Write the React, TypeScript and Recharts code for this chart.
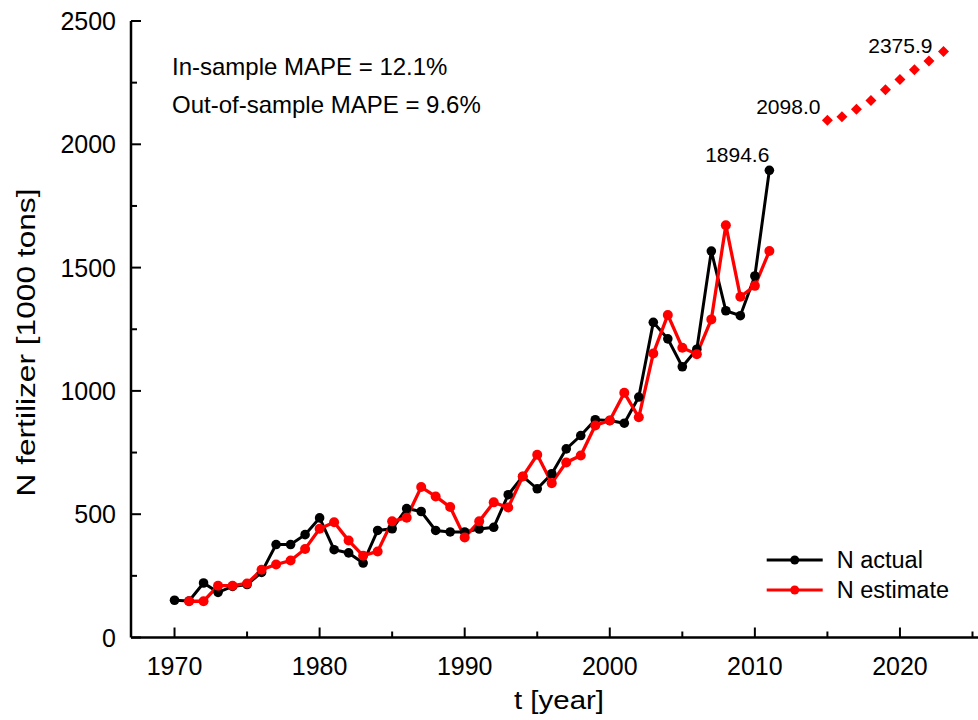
import React from 'react';
import { LineChart, Line, XAxis, YAxis, Legend, LabelList, Label } from 'recharts';

const FONT = '"Liberation Sans", Arial, Helvetica, sans-serif';

// ---- data ----
const actualYears = [1970, 1971, 1972, 1973, 1974, 1975, 1976, 1977, 1978, 1979, 1980, 1981, 1982, 1983, 1984, 1985, 1986, 1987, 1988, 1989, 1990, 1991, 1992, 1993, 1994, 1995, 1996, 1997, 1998, 1999, 2000, 2001, 2002, 2003, 2004, 2005, 2006, 2007, 2008, 2009, 2010, 2011];
const actualValues = [151, 148, 221, 183, 207, 215, 264, 377, 377, 417, 485, 356, 343, 302, 434, 441, 523, 511, 434, 428, 428, 440, 447, 579, 653, 603, 664, 765, 819, 883, 880, 869, 975, 1278, 1211, 1098, 1169, 1567, 1325, 1305, 1466, 1894.6];

const estimateYears = [1971, 1972, 1973, 1974, 1975, 1976, 1977, 1978, 1979, 1980, 1981, 1982, 1983, 1984, 1985, 1986, 1987, 1988, 1989, 1990, 1991, 1992, 1993, 1994, 1995, 1996, 1997, 1998, 1999, 2000, 2001, 2002, 2003, 2004, 2005, 2006, 2007, 2008, 2009, 2010, 2011];
const estimateValues = [147, 147, 210, 210, 219, 275, 296, 312, 359, 441, 467, 393, 332, 349, 471, 486, 610, 572, 529, 406, 471, 548, 527, 653, 741, 626, 710, 738, 860, 880, 992, 893, 1152, 1308, 1175, 1149, 1290, 1672, 1382, 1426, 1567];

const forecastYears = [2015, 2016, 2017, 2018, 2019, 2020, 2021, 2022, 2023];
const forecastValues = [2098.0, 2112, 2142, 2178, 2221, 2263, 2302, 2338, 2375.9];

const xTicks = [1970, 1975, 1980, 1985, 1990, 1995, 2000, 2005, 2010, 2015, 2020, 2025];
const yTicks = [0, 250, 500, 750, 1000, 1250, 1500, 1750, 2000, 2250, 2500];
const xDomain = [1967, 2026];
const yDomain = [0, 2500];

const seriesNames = ['N actual', 'N estimate'];
const mapeLines = ['In-sample MAPE = 12.1%', 'Out-of-sample MAPE = 9.6%'];
const xTitle = 't [year]';
const yTitle = 'N fertilizer [1000 tons]';

// ---- table built from the arrays ----
const allYears = Array.from(new Set([...actualYears, ...estimateYears, ...forecastYears])).sort((a, b) => a - b);
const table = allYears.map((yr) => {
  const ia = actualYears.indexOf(yr);
  const ie = estimateYears.indexOf(yr);
  const iff = forecastYears.indexOf(yr);
  return {
    year: yr,
    actual: ia >= 0 ? actualValues[ia] : null,
    estimate: ie >= 0 ? estimateValues[ie] : null,
    forecast: iff >= 0 ? forecastValues[iff] : null,
  };
});

const lastActual = actualValues[actualValues.length - 1];
const firstForecast = forecastValues[0];
const lastForecast = forecastValues[forecastValues.length - 1];

// ---- ticks ----
const XTickBottom = (props: any) => {
  const { x, y, payload } = props;
  const v = payload.value;
  const major = v % 10 === 0;
  return (
    <g>
      <line x1={x} x2={x} y1={y} y2={y - (major ? 10 : 6)} stroke="#000" strokeWidth={2} />
      {major && (
        <text x={x} y={y + 37.5} textAnchor="middle" fontSize={25} fontFamily={FONT} fill="#000">
          {v}
        </text>
      )}
    </g>
  );
};

const XTickTop = (props: any) => {
  const { x, y, payload } = props;
  const major = payload.value % 10 === 0;
  return <line x1={x} x2={x} y1={y} y2={y + (major ? 10 : 6)} stroke="#000" strokeWidth={2} />;
};

const YTickLeft = (props: any) => {
  const { x, y, payload } = props;
  const v = payload.value;
  const major = v % 500 === 0;
  return (
    <g>
      <line x1={x} x2={x + (major ? 10 : 6)} y1={y} y2={y} stroke="#000" strokeWidth={2} />
      {major && (
        <text x={x - 15} y={y + 9} textAnchor="end" fontSize={25} fontFamily={FONT} fill="#000">
          {v}
        </text>
      )}
    </g>
  );
};

const YTickRight = (props: any) => {
  const { x, y, payload } = props;
  const major = payload.value % 500 === 0;
  return <line x1={x} x2={x - (major ? 10 : 6)} y1={y} y2={y} stroke="#000" strokeWidth={2} />;
};

// ---- dots & labels ----
const Diamond = (props: any) => {
  const { cx, cy, index } = props;
  if (cx == null || cy == null || props.value == null) return <g key={`d-${index}`} />;
  const r = 5.5;
  return (
    <polygon
      key={`d-${index}`}
      points={`${cx},${cy - r} ${cx + r},${cy} ${cx},${cy + r} ${cx - r},${cy}`}
      fill="#ff0000"
      stroke="none"
    />
  );
};

const ActualLabel = (props: any) => {
  const { x, y, value } = props;
  if (value !== lastActual) return null;
  return (
    <text x={x} y={y - 8} textAnchor="end" fontSize={21} fontFamily={FONT} fill="#000">
      {Number(value).toFixed(1)}
    </text>
  );
};

const ForecastLabel = (props: any) => {
  const { x, y, value } = props;
  if (value === firstForecast) {
    return (
      <text x={x - 7} y={y - 6} textAnchor="end" fontSize={21} fontFamily={FONT} fill="#000">
        {Number(value).toFixed(1)}
      </text>
    );
  }
  if (value === lastForecast) {
    return (
      <text x={x - 11} y={y + 1} textAnchor="end" fontSize={21} fontFamily={FONT} fill="#000">
        {Number(value).toFixed(1)}
      </text>
    );
  }
  return null;
};

const XTitle = () => (
  <text x={559} y={709} textAnchor="middle" fontSize={26} fontFamily={FONT} fill="#000" textLength={90} lengthAdjust="spacingAndGlyphs">
    {xTitle}
  </text>
);

const YTitle = () => (
  <text
    x={0}
    y={0}
    transform="translate(35, 342.5) rotate(-90)"
    textAnchor="middle"
    fontSize={26}
    fontFamily={FONT}
    fill="#000"
    textLength={308}
    lengthAdjust="spacingAndGlyphs"
  >
    {yTitle}
  </text>
);

const LegendContent = (props: any) => {
  const payload = (props.payload || []).filter((p: any) => seriesNames.includes(p.value));
  return (
    <svg width={210} height={62} style={{ display: 'block', overflow: 'visible' }}>
      {payload.map((p: any, i: number) => {
        const cy = 15 + 30 * i;
        const color = p.color;
        return (
          <g key={p.value}>
            <line x1={6.7} x2={62.7} y1={cy} y2={cy} stroke={color} strokeWidth={3} />
            <circle cx={34.7} cy={cy} r={4.5} fill={color} />
            <text x={76.7} y={cy + 7.7} fontSize={23.5} fontFamily={FONT} fill="#000">
              {p.value}
            </text>
          </g>
        );
      })}
    </svg>
  );
};

export default function App() {
  return (
    <div
      style={{
        position: 'absolute',
        left: 0,
        top: 0,
        width: 978,
        height: 720,
        overflow: 'hidden',
        background: '#fff',
      }}
    >
      <LineChart width={987} height={720} data={table} margin={{ top: 21, right: 0, bottom: 0, left: 0 }}>
        <XAxis
          xAxisId={0}
          dataKey="year"
          type="number"
          domain={xDomain}
          allowDataOverflow
          ticks={xTicks}
          interval={0}
          height={82.5}
          tickSize={0}
          tickMargin={0}
          tickLine={false}
          axisLine={{ stroke: '#000', strokeWidth: 2.5 }}
          tick={<XTickBottom />}
        >
          <Label content={<XTitle />} />
        </XAxis>
        <XAxis
          xAxisId="top"
          orientation="top"
          dataKey="year"
          type="number"
          domain={xDomain}
          allowDataOverflow
          ticks={xTicks}
          interval={0}
          height={0}
          tickSize={0}
          tickMargin={0}
          tickLine={false}
          axisLine={{ stroke: '#000', strokeWidth: 2.5 }}
          tick={<XTickTop />}
        />
        <YAxis
          yAxisId={0}
          type="number"
          domain={yDomain}
          allowDataOverflow
          ticks={yTicks}
          interval={0}
          width={131}
          tickSize={0}
          tickMargin={0}
          tickLine={false}
          axisLine={{ stroke: '#000', strokeWidth: 2.5 }}
          tick={<YTickLeft />}
        >
          <Label content={<YTitle />} />
        </YAxis>
        <YAxis
          yAxisId="right"
          orientation="right"
          type="number"
          domain={yDomain}
          allowDataOverflow
          ticks={yTicks}
          interval={0}
          width={0}
          tickSize={0}
          tickMargin={0}
          tickLine={false}
          axisLine={{ stroke: '#000', strokeWidth: 2.5 }}
          tick={<YTickRight />}
        />
        <Legend
          layout="horizontal"
          verticalAlign="middle"
          align="center"
          content={<LegendContent />}
          wrapperStyle={{ position: 'absolute', left: 760, top: 545, width: 210, height: 62 }}
        />
        <Line
          dataKey="actual"
          name={seriesNames[0]}
          stroke="#000000"
          strokeWidth={3}
          dot={{ r: 4.8, fill: '#000000', stroke: '#000000', strokeWidth: 0 }}
          activeDot={false}
          isAnimationActive={false}
          connectNulls={false}
        >
          <LabelList dataKey="actual" content={<ActualLabel />} />
        </Line>
        <Line
          dataKey="estimate"
          name={seriesNames[1]}
          stroke="#ff0000"
          strokeWidth={3.3}
          dot={{ r: 5, fill: '#ff0000', stroke: '#ff0000', strokeWidth: 0 }}
          activeDot={false}
          isAnimationActive={false}
          connectNulls={false}
        />
        <Line
          dataKey="forecast"
          name="N forecast"
          stroke="none"
          strokeWidth={0}
          dot={<Diamond />}
          activeDot={false}
          legendType="none"
          isAnimationActive={false}
        >
          <LabelList dataKey="forecast" content={<ForecastLabel />} />
        </Line>
      </LineChart>
      <svg
        width={978}
        height={720}
        style={{ position: 'absolute', left: 0, top: 0, pointerEvents: 'none' }}
      >
        {mapeLines.map((t, i) => (
          <text key={t} x={172} y={75 + 38 * i} fontSize={24} fontFamily={FONT} fill="#000">
            {t}
          </text>
        ))}
      </svg>
    </div>
  );
}
